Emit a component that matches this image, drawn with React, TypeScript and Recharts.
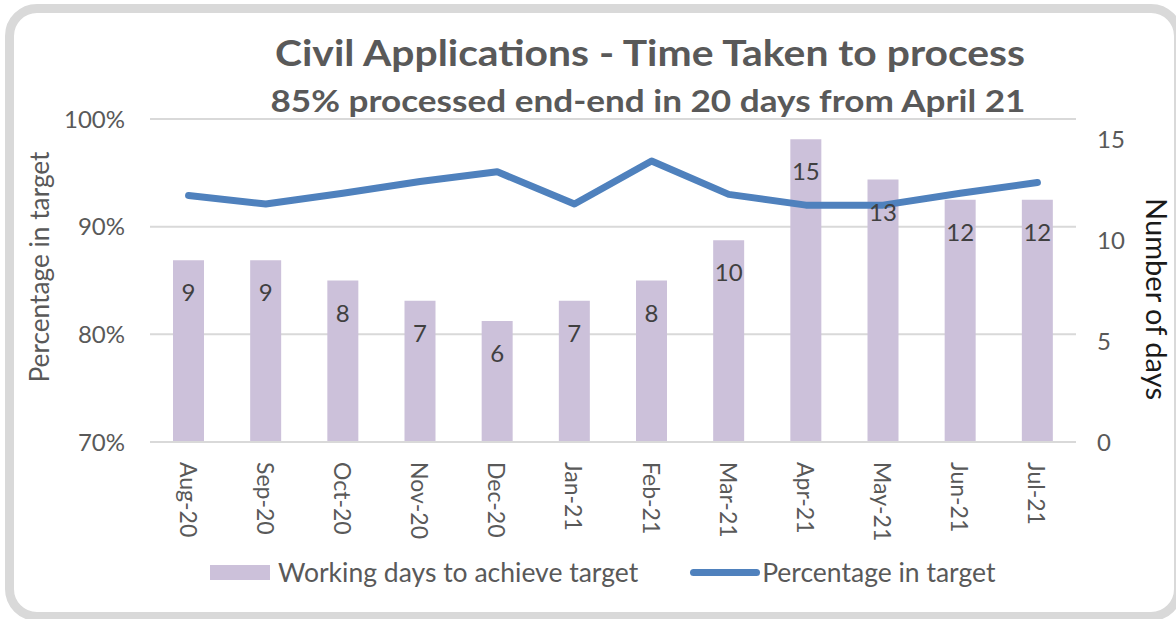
import React from 'react';
import { ComposedChart, Bar, Line, XAxis, YAxis, CartesianGrid, LabelList, Legend } from 'recharts';

const months = ['Aug-20', 'Sep-20', 'Oct-20', 'Nov-20', 'Dec-20', 'Jan-21', 'Feb-21', 'Mar-21', 'Apr-21', 'May-21', 'Jun-21', 'Jul-21'];
const workingDays = [9, 9, 8, 7, 6, 7, 8, 10, 15, 13, 12, 12];
const percentageInTarget = [92.9, 92.1, 93.1, 94.2, 95.1, 92.1, 96.1, 93.0, 92.0, 92.0, 93.1, 94.1];
const leftTicks = [70, 80, 90, 100];
const rightTicks = [0, 5, 10, 15];

const title = 'Civil Applications - Time Taken to process';
const subtitle = '85% processed end-end in 20 days from April 21';
const barName = 'Working days to achieve target';
const lineName = 'Percentage in target';
const rightAxisName = 'Number of days';

const data = months.map((m, i) => ({ month: m, days: workingDays[i], pct: percentageInTarget[i] }));

const FONT = 'Lato, "Open Sans", sans-serif';
const BAR_COLOR = '#ccc1da';
const LINE_COLOR = '#4f81bd';
const TICK_COLOR = '#595959';

const XTick = (props: any) => {
  const { x, y, payload } = props;
  return (
    <text
      transform={`translate(${x},${y}) rotate(90)`}
      textAnchor="start"
      dominantBaseline="central"
      fill={TICK_COLOR}
      fontSize={23}
      fontFamily={FONT}
    >
      {payload.value}
    </text>
  );
};

const BarLabel = (props: any) => {
  const { x, y, width, value } = props;
  return (
    <text x={x + width / 2} y={y + 41} textAnchor="middle" fill="#404040" fontSize={24} fontFamily={FONT}>
      {value}
    </text>
  );
};

const LegendContent = () => (
  <div style={{ display: 'flex', alignItems: 'center', fontFamily: FONT, fontSize: 26.5, color: TICK_COLOR, whiteSpace: 'nowrap' }}>
    <div style={{ width: 60, height: 15, background: BAR_COLOR, marginRight: 8 }} />
    <span>{barName}</span>
    <div style={{ width: 70, height: 7, background: LINE_COLOR, borderRadius: 4, marginLeft: 52, marginRight: 2 }} />
    <span>{lineName}</span>
  </div>
);

export default function App() {
  return (
    <div style={{ position: 'absolute', left: 0, top: 0, width: 1176, height: 619, overflow: 'hidden', background: '#fff' }}>
      <div
        style={{
          position: 'absolute',
          left: 5,
          top: 4,
          width: 1178,
          height: 617,
          boxSizing: 'border-box',
          border: '9px solid #d9d9d9',
          borderRadius: 32,
        }}
      />
      <svg width={1176} height={619} style={{ position: 'absolute', left: 0, top: 0 }}>
        <text
          x={650}
          y={66}
          textAnchor="middle"
          fontFamily={FONT}
          fontWeight="bold"
          fontSize={37}
          fill={TICK_COLOR}
          textLength={750}
          lengthAdjust="spacingAndGlyphs"
        >
          {title}
        </text>
        <text
          x={648}
          y={112}
          textAnchor="middle"
          fontFamily={FONT}
          fontWeight="bold"
          fontSize={31}
          fill={TICK_COLOR}
          textLength={755}
          lengthAdjust="spacingAndGlyphs"
        >
          {subtitle}
        </text>
        <text
          transform="translate(39,267) rotate(-90)"
          textAnchor="middle"
          dominantBaseline="central"
          fontFamily={FONT}
          fontSize={26}
          fill={TICK_COLOR}
          textLength={231}
          lengthAdjust="spacingAndGlyphs"
        >
          {lineName}
        </text>
        <text
          transform="translate(1157,299) rotate(90)"
          textAnchor="middle"
          dominantBaseline="central"
          fontFamily={FONT}
          fontSize={28}
          fill="#1a1a1a"
          textLength={202}
          lengthAdjust="spacingAndGlyphs"
        >
          {rightAxisName}
        </text>
      </svg>
      <div style={{ position: 'absolute', left: 0, top: 0 }}>
        <ComposedChart width={1176} height={619} data={data} margin={{ top: 119, right: 20, bottom: 77, left: 60 }}>
          <CartesianGrid horizontal vertical={false} stroke="#d9d9d9" strokeWidth={2} yAxisId="left" />
          <XAxis
            dataKey="month"
            height={100}
            tick={<XTick />}
            tickLine={false}
            tickSize={0}
            tickMargin={20}
            axisLine={{ stroke: '#d9d9d9', strokeWidth: 2 }}
            interval={0}
          />
          <YAxis
            yAxisId="left"
            orientation="left"
            width={90}
            domain={[70, 100]}
            ticks={leftTicks}
            tickFormatter={(v: number) => `${v}%`}
            axisLine={false}
            tickLine={false}
            tickSize={0}
            tickMargin={25}
            tick={{ fill: TICK_COLOR, fontSize: 24, fontFamily: FONT }}
          />
          <YAxis
            yAxisId="right"
            orientation="right"
            width={80}
            domain={[0, 16]}
            ticks={rightTicks}
            axisLine={false}
            tickLine={false}
            tickSize={0}
            tickMargin={21}
            tick={{ fill: TICK_COLOR, fontSize: 24, fontFamily: FONT }}
          />
          <Bar yAxisId="right" dataKey="days" name={barName} fill={BAR_COLOR} barSize={31} isAnimationActive={false}>
            <LabelList dataKey="days" content={<BarLabel />} />
          </Bar>
          <Line
            yAxisId="left"
            dataKey="pct"
            name={lineName}
            stroke={LINE_COLOR}
            strokeWidth={7}
            dot={false}
            activeDot={false}
            strokeLinejoin="round"
            strokeLinecap="round"
            isAnimationActive={false}
          />
          <Legend
            layout="horizontal"
            verticalAlign="middle"
            align="center"
            content={<LegendContent />}
            wrapperStyle={{ position: 'absolute', left: 210, top: 556, width: 'auto' }}
          />
        </ComposedChart>
      </div>
    </div>
  );
}
